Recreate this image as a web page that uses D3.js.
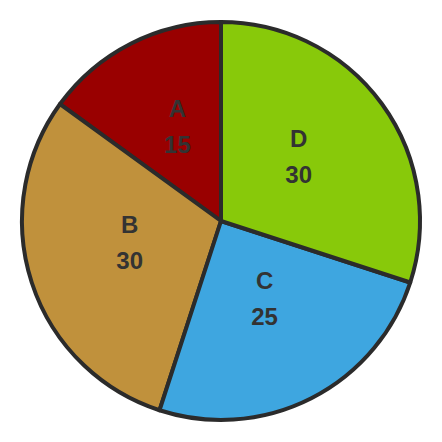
<!DOCTYPE html>
<html><head><meta charset="utf-8">
<script src="https://cdn.jsdelivr.net/npm/d3@7"></script>
<style>html,body{margin:0;padding:0;background:#fff;}</style>
</head><body>
<svg id="chart" width="442" height="442"></svg>
<script>
const categories = ["A", "B", "C", "D"];
const values = [15, 30, 25, 30];
const colors = ["#990000", "#c0913c", "#3ea6e0", "#88c90a"];

const svg = d3.select("#chart");
const cx = 221, cy = 221, radius = 199;
const g = svg.append("g").attr("transform", `translate(${cx},${cy})`);

const data = categories.map((c, i) => ({name: c, value: values[i], color: colors[i]}));
const pie = d3.pie().sort(null).value(d => d.value).startAngle(2 * Math.PI).endAngle(0);
const arcs = pie(data);
const arc = d3.arc().innerRadius(0).outerRadius(radius);
const labelArc = d3.arc().innerRadius(96).outerRadius(96);

g.selectAll("path").data(arcs).join("path")
  .attr("d", arc)
  .attr("fill", d => d.data.color)
  .attr("stroke", "#2b2b2b")
  .attr("stroke-width", 4)
  .attr("stroke-linejoin", "round");

const labels = g.selectAll("g.lbl").data(arcs).join("g").attr("class", "lbl")
  .attr("transform", d => { const [x, y] = labelArc.centroid(d); return `translate(${x},${y})`; });
labels.append("text").attr("y", -18).attr("text-anchor", "middle")
  .style("font", "bold 24px 'Liberation Sans', Arial, sans-serif").attr("fill", "#333")
  .text(d => d.data.name);
labels.append("text").attr("y", 18).attr("text-anchor", "middle")
  .style("font", "bold 24px 'Liberation Sans', Arial, sans-serif").attr("fill", "#333")
  .text(d => d.data.value);
</script>
</body></html>
